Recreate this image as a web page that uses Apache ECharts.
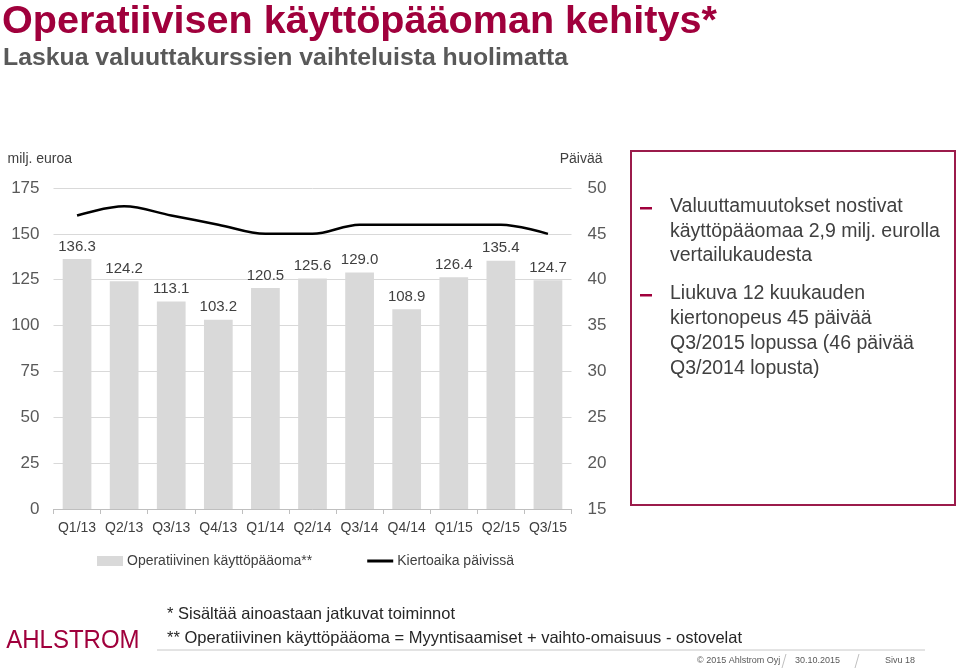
<!DOCTYPE html>
<html>
<head>
<meta charset="utf-8">
<script src="https://cdn.jsdelivr.net/npm/echarts@6/dist/echarts.min.js"></script>
<style>
html,body{margin:0;padding:0;background:#fff;}
#chart{width:960px;height:669px;}
</style>
</head>
<body>
<div id="chart"></div>
<script>
const categories = ['Q1/13','Q2/13','Q3/13','Q4/13','Q1/14','Q2/14','Q3/14','Q4/14','Q1/15','Q2/15','Q3/15'];
const workingCapital = [136.3,124.2,113.1,103.2,120.5,125.6,129.0,108.9,126.4,135.4,124.7];
const turnoverDays = [47,48,47,46,45,45,46,46,46,46,45];
const leftTicks = {min:0, max:175, interval:25};
const rightTicks = {min:15, max:50, interval:5};
const barName = 'Operatiivinen käyttöpääoma**';
const lineName = 'Kiertoaika päivissä';

const FONT = '"Liberation Sans", Arial, sans-serif';
const CRIMSON = '#a0003c';
const chart = echarts.init(document.getElementById('chart'), null, {renderer:'canvas'});

const bullets = [
  {y:207, t:'Valuuttamuutokset nostivat'},
  {y:232, t:'käyttöpääomaa 2,9 milj. eurolla'},
  {y:256, t:'vertailukaudesta'},
  {y:294, t:'Liukuva 12 kuukauden'},
  {y:319, t:'kiertonopeus 45 päivää'},
  {y:344, t:'Q3/2015 lopussa (46 päivää'},
  {y:369, t:'Q3/2014 lopusta)'}
];
const graphics = [
  {type:'text', left:2, top:2, style:{text:'Operatiivisen käyttöpääoman kehitys*', font:'bold 39.6px '+FONT, fill:CRIMSON}},
  {type:'text', left:3, top:46, style:{text:'Laskua valuuttakurssien vaihteluista huolimatta', font:'bold 24.8px '+FONT, fill:'#595959'}},
  {type:'rect', shape:{x:631, y:151, width:324, height:354}, style:{fill:'none', stroke:'#9b1b4b', lineWidth:2}},
  {type:'rect', shape:{x:640, y:207, width:12, height:2.5}, style:{fill:CRIMSON}},
  {type:'rect', shape:{x:640, y:294, width:12, height:2.5}, style:{fill:CRIMSON}},
  {type:'text', x:167, y:614, style:{text:'* Sisältää ainoastaan jatkuvat toiminnot', font:'16.5px '+FONT, fill:'#262626', verticalAlign:'middle'}},
  {type:'text', x:167, y:638, style:{text:'** Operatiivinen käyttöpääoma = Myyntisaamiset + vaihto-omaisuus - ostovelat', font:'16.5px '+FONT, fill:'#262626', verticalAlign:'middle'}},
  {type:'line', shape:{x1:157, y1:650, x2:925, y2:650}, style:{stroke:'#c8c8c8', lineWidth:1}},
  {type:'text', x:6, y:641, scaleX:0.96, originX:6, originY:641, style:{text:'AHLSTROM', font:'25px '+FONT, fill:CRIMSON, verticalAlign:'middle'}},
  {type:'text', x:697, y:661, style:{text:'© 2015 Ahlstrom Oyj', font:'9px '+FONT, fill:'#595959', verticalAlign:'middle'}},
  {type:'text', x:795, y:661, style:{text:'30.10.2015', font:'9px '+FONT, fill:'#595959', verticalAlign:'middle'}},
  {type:'text', x:885, y:661, style:{text:'Sivu 18', font:'9px '+FONT, fill:'#595959', verticalAlign:'middle'}},
  {type:'line', shape:{x1:782, y1:668, x2:786, y2:654}, style:{stroke:'#bfbfbf', lineWidth:1}},
  {type:'line', shape:{x1:855, y1:668, x2:859, y2:654}, style:{stroke:'#bfbfbf', lineWidth:1}}
];
bullets.forEach(b => graphics.push({type:'text', x:670, y:b.y, style:{text:b.t, font:'19.5px '+FONT, fill:'#404040', verticalAlign:'middle'}}));

chart.setOption({
  animation:false,
  textStyle:{fontFamily:FONT},
  grid:{left:53.5, right:388.5, top:188, bottom:160, containLabel:false},
  legend:{
    left:92, top:549, itemGap:55, itemWidth:26, itemHeight:10,
    textStyle:{fontSize:14, color:'#404040', fontFamily:FONT, padding:[0,0,0,-1]},
    data:[{name:barName, icon:'rect'}, {name:lineName, icon:'path://M0,0 L26,0 L26,3 L0,3 Z'}]
  },
  xAxis:{
    type:'category', data:categories, boundaryGap:true,
    axisLine:{lineStyle:{color:'#bfbfbf'}},
    axisTick:{show:true, alignWithLabel:false, length:5, lineStyle:{color:'#bfbfbf'}},
    axisLabel:{fontSize:14, color:'#404040', margin:12, interval:0}
  },
  yAxis:[
    {type:'value', min:leftTicks.min, max:leftTicks.max, interval:leftTicks.interval,
     name:'milj. euroa', nameLocation:'end', nameGap:22,
     nameTextStyle:{fontSize:14, color:'#404040', align:'left', padding:[0,0,0,-46]},
     axisLabel:{fontSize:17, color:'#595959', margin:14},
     axisLine:{show:false}, axisTick:{show:false},
     splitLine:{lineStyle:{color:'#d9d9d9'}}},
    {type:'value', min:rightTicks.min, max:rightTicks.max, interval:rightTicks.interval,
     name:'Päivää', nameLocation:'end', nameGap:22,
     nameTextStyle:{fontSize:14, color:'#404040', align:'right', padding:[0,-31,0,0]},
     axisLabel:{fontSize:17, color:'#595959', margin:16},
     axisLine:{show:false}, axisTick:{show:false}, splitLine:{show:false}}
  ],
  series:[
    {name:barName, type:'bar', data:workingCapital, barWidth:'61%', yAxisIndex:0,
     itemStyle:{color:'#d9d9d9'},
     label:{show:true, position:'top', distance:5, fontSize:15, color:'#404040', formatter:p=>p.value.toFixed(1)}},
    {name:lineName, type:'line', data:turnoverDays, yAxisIndex:1, smooth:0.35,
     symbol:'none', lineStyle:{color:'#000', width:2.5}, itemStyle:{color:'#000'}}
  ],
  graphic:graphics
});
</script>
</body>
</html>
